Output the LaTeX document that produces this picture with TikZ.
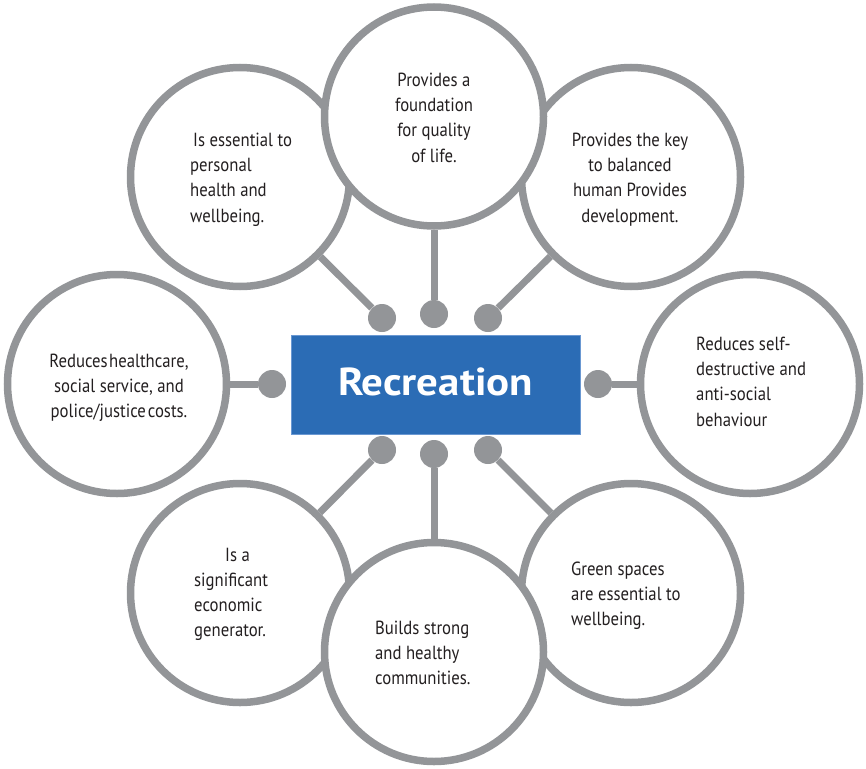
\documentclass[tikz,border=0pt]{standalone}
\usepackage{fontspec}
\setmainfont{PT Sans}[FakeStretch=0.88]
\newfontfamily\titlefont{PT Sans Bold}[FakeStretch=1.1]
\usetikzlibrary{backgrounds}
\definecolor{cgray}{HTML}{939598}
\definecolor{cblue}{HTML}{2B6CB5}
\definecolor{cblueedge}{HTML}{6A98D2}
\definecolor{ctext}{HTML}{231F20}
\begin{document}
\begin{tikzpicture}[x=1pt,y=-1pt,
  bubble/.style={circle,draw=cgray,fill=white,line width=7.5pt,minimum size=219pt,inner sep=0pt},
  dot/.style={circle,fill=cgray,minimum size=28pt,inner sep=0pt},
  link/.style={draw=cgray,line width=7pt},
  txt/.style={font=\fontsize{19}{25.3}\selectfont,text=ctext,inner sep=0pt},
  rect/.style={rectangle,fill=cblue,draw=cblueedge,line width=1pt,minimum width=289pt,minimum height=99pt,inner sep=0pt},
  title/.style={font=\titlefont\fontsize{39}{40}\selectfont,text=white,inner sep=0pt}
]
\useasboundingbox (0,0) rectangle (866,768);
% bubbles (middle ones of the top and bottom rows drawn last, on top)
\node[bubble] (tl) at (240,177) {};
\node[bubble] (tr) at (631,177) {};
\node[bubble] (tc) at (434,116.5) {};
\node[bubble] (l) at (117,384) {};
\node[bubble] (r) at (750,384) {};
\node[bubble] (bl) at (240,593) {};
\node[bubble] (br) at (631,593) {};
\node[bubble] (bc) at (434,652) {};
% centre
\node[rect] (rec) at (435.5,384.5) {};
\node[title,anchor=base] (rtitle) at (435.5,395) {Recreation};
% dots
\node[dot] (d1) at (382,318) {};
\node[dot] (d2) at (434,314) {};
\node[dot] (d3) at (488,318) {};
\node[dot] (d4) at (272,384) {};
\node[dot] (d5) at (598,384) {};
\node[dot] (d6) at (382,450) {};
\node[dot] (d7) at (434,454) {};
\node[dot] (d8) at (488,450) {};
% connectors
\begin{scope}[on background layer]
\draw[link] (d1) -- (tl);
\draw[link] (d2) -- (tc);
\draw[link] (d3) -- (tr);
\draw[link] (d4) -- (l);
\draw[link] (d5) -- (r);
\draw[link] (d6) -- (bl);
\draw[link] (d7) -- (bc);
\draw[link] (d8) -- (br);
\end{scope}
% texts
\node[txt,anchor=north west,align=left] (t1) at (190,132.5) {\hspace*{3pt}Is essential to\\personal\\health and\\wellbeing.};
\node[txt,anchor=north,align=center] (t2) at (434,72.5) {Provides a\\foundation\\for quality\\of life.};
\node[txt,anchor=north,align=center] (t3) at (630,132.5) {Provides the key\\to balanced\\human Provides\\development.};
\node[txt,anchor=north,align=center] (t4) at (119,353.5) {Reduces\hspace{0.08em}healthcare,\\social service, and\\police/justice\hspace{0.1em}costs.};
\node[txt,anchor=north west,align=left] (t5) at (696,336.5) {Reduces self-\\destructive and\\anti-social\\behaviour};
\node[txt,anchor=north west,align=left] (t6) at (194,547.5) {\hspace*{31pt}Is a\\significant\\economic\\generator.};
\node[txt,anchor=north west,align=left] (t7) at (375,620.5) {Builds strong\\and healthy\\communities.};
\node[txt,anchor=north west,align=left] (t8) at (571,561.5) {Green spaces\\are essential to\\wellbeing.};
\end{tikzpicture}
\end{document}
